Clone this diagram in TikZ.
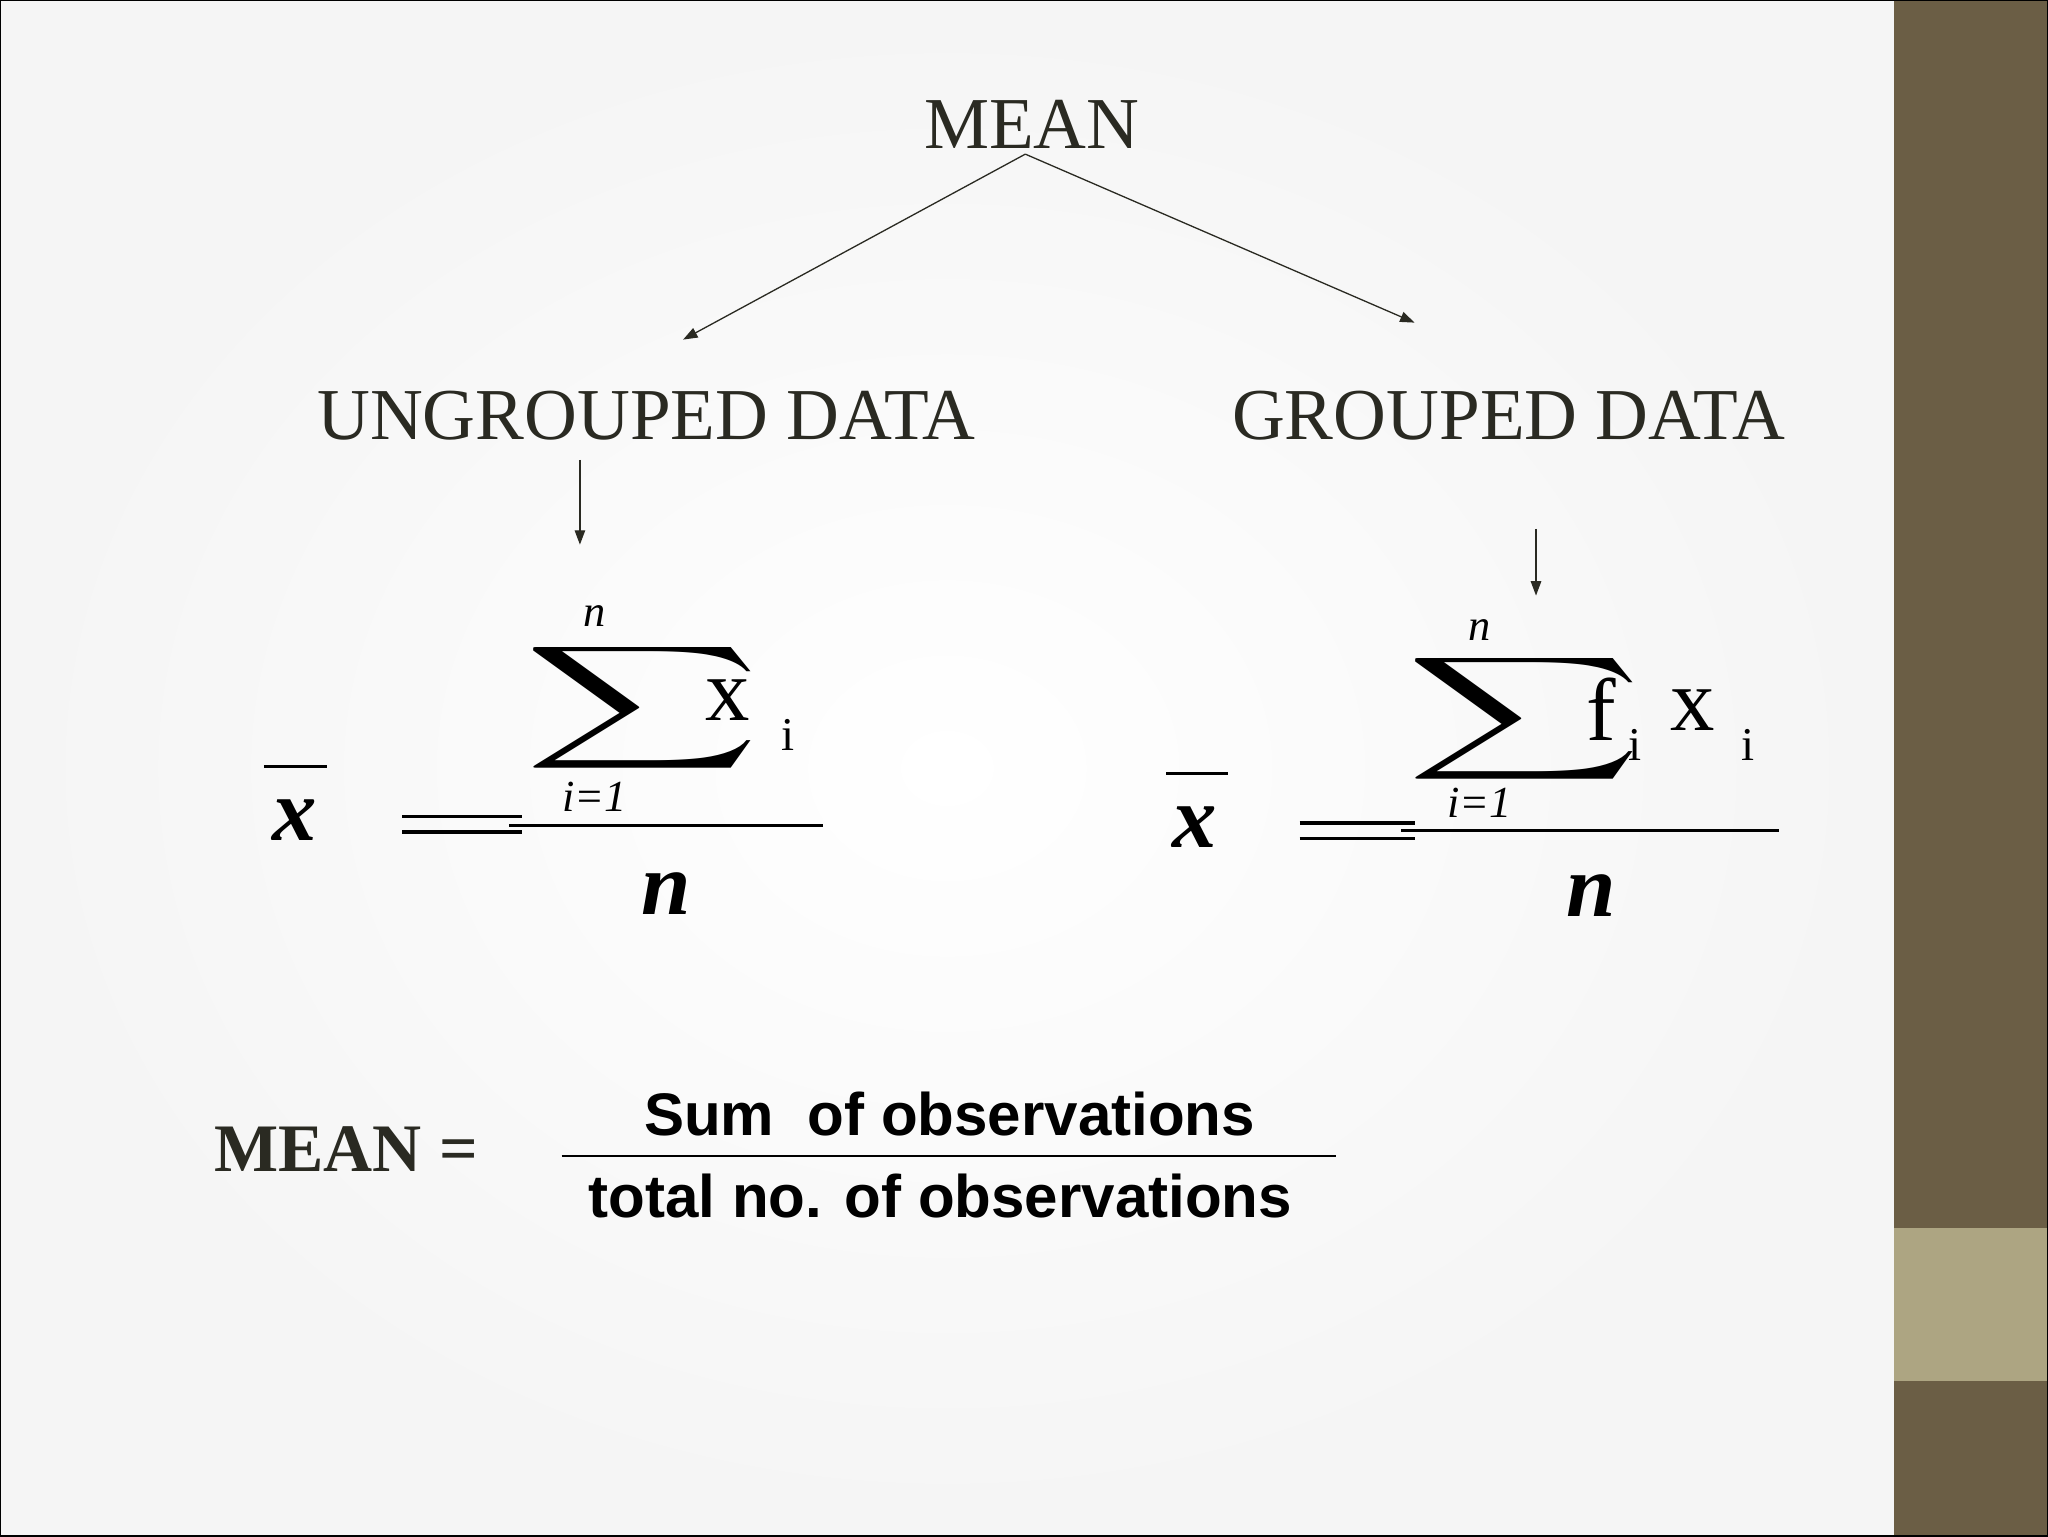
\documentclass[tikz,border=0pt]{standalone}
\usepackage{fontspec}
\usepackage{graphicx}
\newfontfamily\tms{Liberation Serif}
\newfontfamily\arl{Liberation Sans}
\usetikzlibrary{arrows.meta}
\definecolor{olive}{HTML}{6B5E45}
\definecolor{lolive}{HTML}{ADA582}
\definecolor{ink}{HTML}{2A2A22}
\tikzset{
  head/.style={text=ink,font=\tms\fontsize{56}{56}\selectfont},
  arr/.style={-{Triangle[length=11pt,width=8pt]},line width=1pt,draw=ink},
  rule/.style={line width=2.5pt,draw=black},
  bigit/.style={font=\tms\bfseries\itshape\fontsize{68}{68}\selectfont},
  smit/.style={font=\tms\itshape\fontsize{34}{34}\selectfont},
  up/.style={font=\tms\fontsize{68}{68}\selectfont},
  sub/.style={font=\tms\fontsize{36}{36}\selectfont},
  bsans/.style={font=\arl\bfseries\fontsize{46}{46}\selectfont},
}
\begin{document}
\begin{tikzpicture}[x=1pt,y=-1pt]
\useasboundingbox (0,0) rectangle (1568,1176);
\shade[inner color=white,outer color=gray!8] (0,0) rectangle (1450,1176);
\fill[olive] (1450,0) rectangle (1568,1176);
\fill[lolive] (1450,940) rectangle (1568,1057);
\draw[line width=1pt] (0,0) rectangle (1568,1176);

\node[head] (mean) at (790,95) {MEAN};
\node[head] (ung) at (495,318) {UNGROUPED DATA};
\node[head] (grp) at (1155,318) {GROUPED DATA};
\coordinate (top) at (785,118);
\coordinate (la) at (523,260);
\coordinate (ra) at (1083,247);
\draw[arr] (top) -- (la);
\draw[arr] (top) -- (ra);
\coordinate (d1a) at (444,352); \coordinate (d1b) at (444,417);
\coordinate (d2a) at (1176,405); \coordinate (d2b) at (1176,456);
\draw[arr] (d1a) -- (d1b);
\draw[arr] (d2a) -- (d2b);

% left formula
\draw[rule] (202,587) -- (250,587);
\node[bigit] (lx) at (226,628) {x};
\draw[rule] (308,625) -- (400,625);
\draw[rule] (308,637) -- (400,637);
\draw[rule] (390,632) -- (630,632);
\node (lsig) at (492,542) {\scalebox{12.5}[6.6]{$\displaystyle\sum$}};
\node[smit] (ln) at (455,472) {n};
\node[up] (lxi) at (557,536) {x};
\node[sub] (lii) at (603,563) {i};
\node[smit] (l1) at (455,610) {i=1};
\node[bigit] (lnb) at (510,684) {n};

% right formula
\draw[rule] (893,592) -- (940,592);
\node[bigit] (rx) at (915,633) {x};
\draw[rule] (995,630) -- (1083,630);
\draw[rule] (995,642) -- (1083,642);
\draw[rule] (1073,636) -- (1362,636);
\node (rsig) at (1167,550) {\scalebox{12.5}[6.6]{$\displaystyle\sum$}};
\node[smit] (rn) at (1133,482) {n};
\node[up] (rf) at (1226,543) {f};
\node[sub] (rfi) at (1252,570) {i};
\node[up] (rxi) at (1296,544) {x};
\node[sub] (rii) at (1338,570) {i};
\node[smit] (r1) at (1133,615) {i=1};
\node[bigit] (rnb) at (1218,686) {n};

% bottom
\node[text=ink,font=\tms\bfseries\fontsize{52}{52}\selectfont] (m2) at (265,880) {MEAN =};
\node[bsans] (num) at (727,853) {Sum\ \ of observations};
\coordinate (fl) at (430,885); \coordinate (fr) at (1023,885);
\draw[line width=1.3pt] (fl) -- (fr);
\node[bsans] (den) at (720,916) {total no. of observations};
\end{tikzpicture}
\end{document}
